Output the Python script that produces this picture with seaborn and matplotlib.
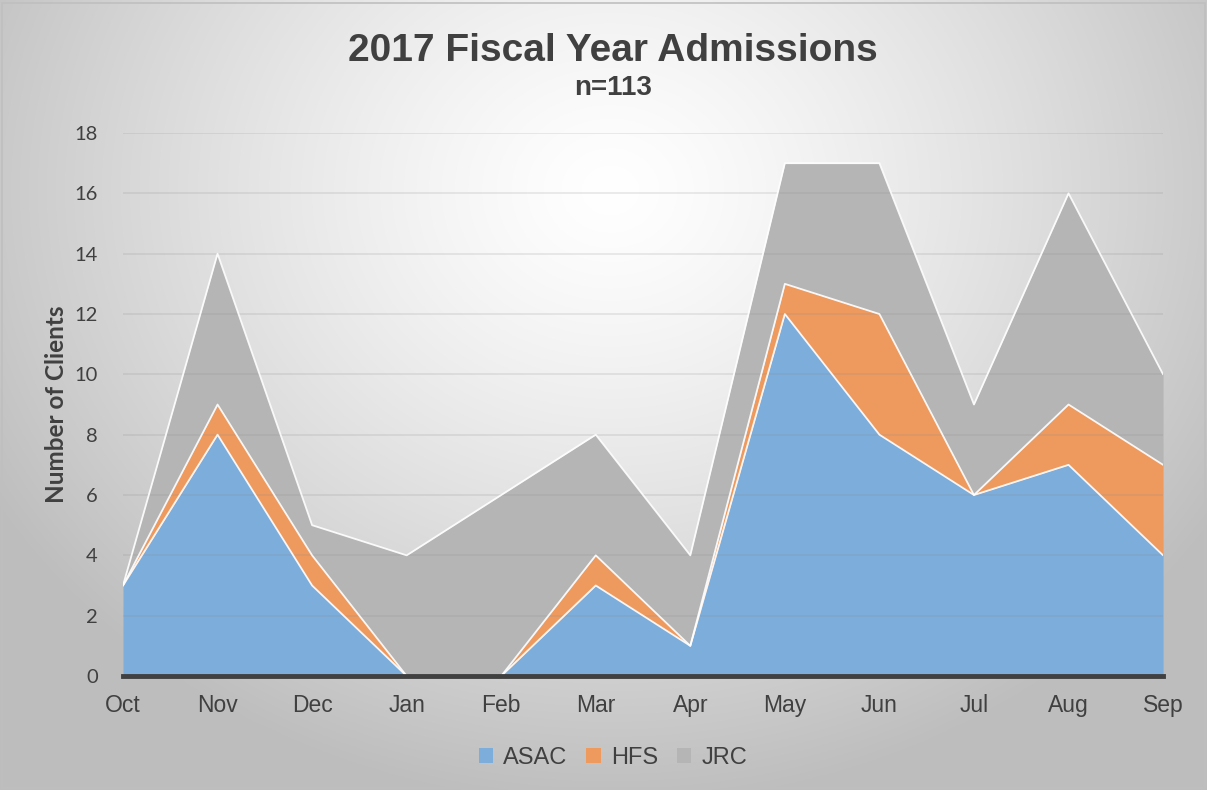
import numpy as np
import pandas as pd
import matplotlib
matplotlib.use("Agg")
import matplotlib.pyplot as plt
from matplotlib.patches import Rectangle
import seaborn as sns

months = ["Oct", "Nov", "Dec", "Jan", "Feb", "Mar", "Apr", "May", "Jun", "Jul", "Aug", "Sep"]
asac = [3, 8, 3, 0, 0, 3, 1, 12, 8, 6, 7, 4]
hfs = [0, 1, 1, 0, 0, 1, 0, 1, 4, 0, 2, 3]
jrc = [0, 5, 1, 4, 6, 4, 3, 4, 5, 3, 7, 3]
series_names = ["ASAC", "HFS", "JRC"]
series_colors = ["#7daddb", "#ee9a5f", "#b5b5b5"]

title = "2017 Fiscal Year Admissions"
subtitle = "n=113"
y_label = "Number of Clients"
y_ticks = [0, 2, 4, 6, 8, 10, 12, 14, 16, 18]

sns.set_theme(style="white")
plt.rcParams["font.family"] = ["Liberation Sans", "DejaVu Sans"]

df = pd.DataFrame({"month": months, "ASAC": asac, "HFS": hfs, "JRC": jrc})
x = np.arange(len(months))

fig = plt.figure(figsize=(12.07, 7.9), dpi=100)

# radial grey-to-white backdrop
bg = fig.add_axes([0, 0, 1, 1], zorder=-10)
H, W = 790, 1207
yy, xx = np.mgrid[0:H, 0:W]
d = np.sqrt(((xx - 610) / 720.0) ** 2 + ((yy - 190) / 620.0) ** 2)
shade = 255 - 66 * np.clip(d, 0, 1) ** 1.3
img = np.dstack([shade, shade, shade]).astype(np.uint8)
bg.imshow(img, extent=[0, 1, 0, 1], aspect="auto", origin="upper")
bg.add_patch(Rectangle((0.002, 0.003), 0.996, 0.993, transform=bg.transAxes,
                       fill=False, edgecolor="#bfbfbf", linewidth=1.2))
bg.axis("off")

ax = fig.add_axes([0.1019, 0.1443, 0.8617, 0.6873])
ax.set_facecolor("none")

cum = np.zeros(len(months))
polys = []
for name, color in zip(series_names, series_colors):
    vals = df[name].to_numpy(dtype=float)
    top = cum + vals
    ax.fill_between(x, cum, top, color=color, linewidth=0, zorder=2, label=name)
    cum = top
    polys.append(top.copy())

# thin white outlines along each stacked boundary
for top in polys:
    line_df = pd.DataFrame({"x": x, "y": top})
    sns.lineplot(data=line_df, x="x", y="y", ax=ax, color="white", linewidth=1.3,
                 alpha=0.9, zorder=3, legend=False)

ax.set_xlim(0, len(months) - 1)
ax.set_ylim(0, 18)
ax.set_yticks(y_ticks)
ax.set_xticks(x)
ax.set_xticklabels(months)
ax.grid(axis="y", color="#8c8c8c", alpha=0.22, linewidth=1.1, zorder=4)
ax.set_axisbelow(False)
for s in ["top", "right", "left"]:
    ax.spines[s].set_visible(False)
ax.spines["bottom"].set_color("#404040")
ax.spines["bottom"].set_linewidth(3.5)
ax.spines["bottom"].set_zorder(5)
ax.tick_params(axis="both", length=0, colors="#404040")
ax.tick_params(axis="x", labelsize=16.5, pad=13)
ax.tick_params(axis="y", labelsize=14.5, pad=18)
for lbl in ax.get_yticklabels():
    lbl.set_fontfamily(["Lato", "DejaVu Sans"])
ax.set_xlabel("")
ax.set_ylabel(y_label, fontsize=17.5, fontweight="bold", color="#404040", labelpad=5,
              fontfamily=["Lato", "DejaVu Sans"])

fig.text(0.508, 0.935, title, ha="center", va="center", fontsize=28,
         fontweight="bold", color="#404040")
fig.text(0.508, 0.889, subtitle, ha="center", va="center", fontsize=20,
         fontweight="bold", color="#404040")

handles, labels = ax.get_legend_handles_labels()
leg = fig.legend(handles, labels, loc="center", bbox_to_anchor=(0.508, 0.041), ncol=3,
                 frameon=False, fontsize=17, handlelength=0.6, handleheight=0.6,
                 handletextpad=0.45, columnspacing=0.8, labelcolor="#404040")

fig.savefig("out.png", dpi=100)
